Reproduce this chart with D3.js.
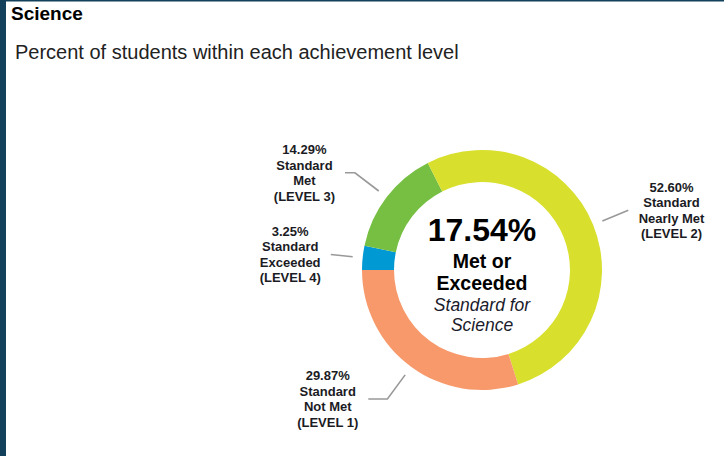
<!DOCTYPE html>
<html>
<head>
<meta charset="utf-8">
<script src="https://cdn.jsdelivr.net/npm/d3@7/dist/d3.min.js"></script>
<style>
  html, body { margin: 0; padding: 0; background: #fff; }
  svg { display: block; font-family: "Liberation Sans", Arial, sans-serif; }
</style>
</head>
<body>
<svg id="chart" width="724" height="456"></svg>
<script>
// ---- data ----
const levels = ["LEVEL 4", "LEVEL 3", "LEVEL 2", "LEVEL 1"];
const levelNames = ["Standard Exceeded", "Standard Met", "Standard Nearly Met", "Standard Not Met"];
const nameLines = [["Standard", "Exceeded"], ["Standard", "Met"], ["Standard", "Nearly Met"], ["Standard", "Not Met"]];
const percents = [3.25, 14.29, 52.60, 29.87];
const colors = ["#0099d4", "#76bf43", "#d8df2c", "#f7996b"];
const metOrExceeded = "17.54%";
const centerLines = ["Met or", "Exceeded"];
const centerItalic = ["Standard for", "Science"];
const title = "Science";
const subtitle = "Percent of students within each achievement level";

// ---- layout ----
const W = 724, H = 456;
const cx = 482, cy = 270, outerR = 120, innerR = 88;
const labelRadius = [152, 168, 158, 172]; // connector end radius per label
const svg = d3.select("#chart");

svg.append("rect").attr("width", W).attr("height", H).attr("fill", "#fff");
svg.append("rect").attr("x", 0).attr("y", 0).attr("width", 6).attr("height", H).attr("fill", "#13415b");
svg.append("rect").attr("x", 0).attr("y", 0).attr("width", W).attr("height", 1.5).attr("fill", "#13415b");

svg.append("text").attr("x", 11).attr("y", 20).attr("font-size", 19).attr("font-weight", "bold")
  .attr("fill", "#000").text(title);
svg.append("text").attr("x", 15).attr("y", 59).attr("font-size", 20)
  .attr("fill", "#222").text(subtitle);

const pie = d3.pie().sort(null).value(d => d).startAngle(-Math.PI / 2).endAngle(3 * Math.PI / 2);
const arcs = pie(percents);
const arc = d3.arc().innerRadius(innerR).outerRadius(outerR);

const g = svg.append("g").attr("transform", `translate(${cx},${cy})`);
g.selectAll("path.slice").data(arcs).join("path")
  .attr("class", "slice")
  .attr("d", arc)
  .attr("fill", (d, i) => colors[i]);

// labels + connectors
const lineH = 15.5;
arcs.forEach((d, i) => {
  const a = (d.startAngle + d.endAngle) / 2;
  const sx = Math.sin(a), sy = -Math.cos(a);
  const right = sx > 0;
  const Rl = labelRadius[i];
  const p0 = [sx * (outerR + 10), sy * (outerR + 10)];
  const rb = Math.min(outerR + 40, Rl);
  const p1 = [sx * rb, sy * rb];
  const ex = (right ? 1 : -1) * Math.sqrt(Math.max(0, Rl * Rl - p1[1] * p1[1]));
  const p2 = [ex, p1[1]];
  g.append("path")
    .attr("d", d3.line()([p0, p1, p2]))
    .attr("fill", "none").attr("stroke", "#999").attr("stroke-width", 1.6);

  const lines = [percents[i].toFixed(2) + "%", ...nameLines[i], "(" + levels[i] + ")"];
  const t = g.append("text").attr("font-size", 13).attr("font-weight", "bold")
    .attr("fill", "#1b1b24").attr("text-anchor", "middle");
  lines.forEach((ln, k) => {
    t.append("tspan").attr("x", 0)
      .attr("y", p2[1] + (k - 1.5) * lineH + 4.6)
      .text(ln);
  });
  const bw = t.node().getBBox().width;
  const gap = 10;
  const centerX = right ? ex + gap + bw / 2 : ex - gap - bw / 2;
  t.selectAll("tspan").attr("x", centerX);
});

// center text
const c = g.append("g").attr("text-anchor", "middle");
c.append("text").attr("x", 0).attr("y", -29).attr("font-size", 32).attr("font-weight", "bold")
  .attr("fill", "#000").text(metOrExceeded);
centerLines.forEach((ln, k) => {
  c.append("text").attr("x", 0).attr("y", -2 + k * 22).attr("font-size", 19.5).attr("font-weight", "bold")
    .attr("fill", "#000").text(ln);
});
centerItalic.forEach((ln, k) => {
  c.append("text").attr("x", 0).attr("y", 41 + k * 20).attr("font-size", 17.5).attr("font-style", "italic")
    .attr("fill", "#1b1b2b").text(ln);
});
</script>
</body>
</html>
